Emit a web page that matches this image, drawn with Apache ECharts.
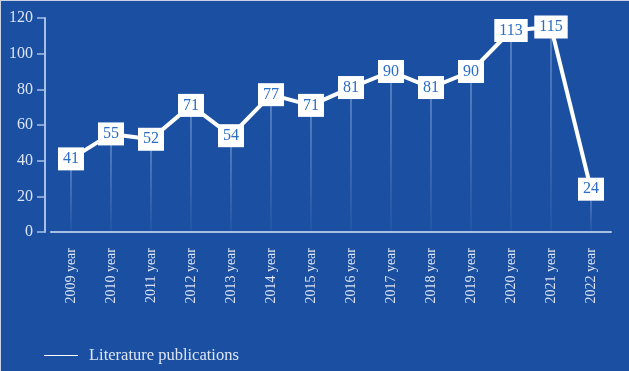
<!DOCTYPE html>
<html>
<head>
<meta charset="utf-8">
<script src="https://cdn.jsdelivr.net/npm/echarts@6/dist/echarts.min.js"></script>
<style>
  html, body { margin: 0; padding: 0; background: #1b4fa2; }
  #chart { width: 629px; height: 371px; box-sizing: border-box; border-top: 1px solid #c9d3e3; border-left: 1px solid #c9d3e3; }
</style>
</head>
<body>
<div id="chart"></div>
<script>
var years = ['2009 year', '2010 year', '2011 year', '2012 year', '2013 year', '2014 year', '2015 year',
             '2016 year', '2017 year', '2018 year', '2019 year', '2020 year', '2021 year', '2022 year'];
var publications = [41, 55, 52, 71, 54, 77, 71, 81, 90, 81, 90, 113, 115, 24];

var serif = '"Liberation Serif", "DejaVu Serif", serif';
var axisColor = '#a7c0e6';

var option = {
    backgroundColor: '#1b4fa2',
    textStyle: { fontFamily: serif },
    grid: { left: 50, top: 17, width: 560, height: 214 },
    legend: {
        left: 38,
        bottom: 2,
        data: ['Literature publications'],
        itemWidth: 34,
        itemHeight: 8,
        itemGap: 10,
        icon: 'path://M0,0 L34,0 L34,1 L0,1 Z',
        textStyle: { color: '#dce5f3', fontSize: 16.5, fontFamily: serif, padding: [0, 0, 0, 6] }
    },
    xAxis: {
        type: 'category',
        data: years,
        boundaryGap: true,
        axisLine: { lineStyle: { color: axisColor, width: 2 } },
        axisTick: { alignWithLabel: true, length: 8, lineStyle: { color: '#dce5f3', width: 1.5 } },
        axisLabel: { rotate: 90, color: '#dce5f3', fontSize: 14, fontFamily: serif, margin: 16 }
    },
    yAxis: {
        type: 'value',
        min: 0,
        max: 120,
        interval: 20,
        offset: 6,
        splitLine: { show: false },
        axisLine: { show: true, lineStyle: { color: axisColor, width: 2 } },
        axisTick: { show: true, length: 8, lineStyle: { color: axisColor, width: 1.5 } },
        axisLabel: { color: '#dce5f3', fontSize: 16, fontFamily: serif, margin: 12 }
    },
    series: [
        {
            // thin fading drop lines under each point
            type: 'bar',
            data: publications,
            barWidth: 1,
            silent: true,
            legendHoverLink: false,
            itemStyle: {
                color: new echarts.graphic.LinearGradient(0, 0, 0, 1, [
                    { offset: 0, color: 'rgba(200,220,255,0.7)' },
                    { offset: 1, color: 'rgba(200,220,255,0.08)' }
                ])
            }
        },
        {
            name: 'Literature publications',
            type: 'line',
            data: publications,
            symbol: 'rect',
            symbolSize: 2,
            showSymbol: true,
            lineStyle: { color: '#ffffff', width: 4 },
            itemStyle: { color: '#ffffff' },
            label: {
                show: true,
                position: 'inside',
                color: '#2a6cc6',
                fontSize: 16,
                fontFamily: serif,
                backgroundColor: '#ffffff',
                padding: [4, 5, 3, 5]
            },
            z: 5
        }
    ]
};

var chart = echarts.init(document.getElementById('chart'));
chart.setOption(option, true);
</script>
</body>
</html>
